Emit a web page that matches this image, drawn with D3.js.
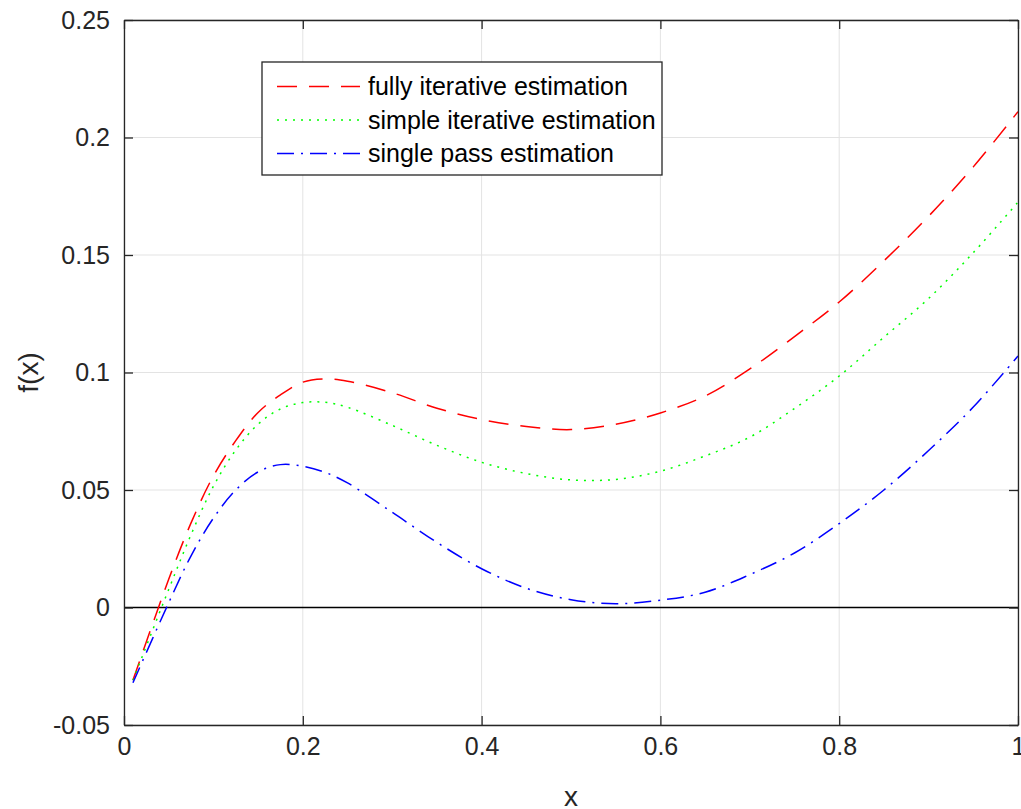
<!DOCTYPE html>
<html>
<head>
<meta charset="utf-8">
<script src="https://cdn.jsdelivr.net/npm/d3@7"></script>
<style>
html,body{margin:0;padding:0;background:#fff;}
text{font-family:"Liberation Sans",Arial,Helvetica,sans-serif;}
</style>
</head>
<body>
<svg id="chart" width="1021" height="809"></svg>
<script>
// ---- data ----
const xFull = [0.01,0.05,0.075,0.1,0.125,0.15,0.175,0.2,0.225,0.25,0.3,0.35,0.4,0.45,0.5,0.55,0.6,0.65,0.7,0.75,0.8,0.85,0.9,0.95,1.0];
const fullyIterative = [-0.031,0.012,0.036,0.056,0.071,0.083,0.0905,0.0959,0.0973,0.0963,0.0914,0.0848,0.0800,0.0770,0.0757,0.0780,0.0828,0.0900,0.1015,0.1153,0.1300,0.1475,0.1665,0.1875,0.2110];
const simpleIterative = [-0.031,0.0077,0.031,0.0516,0.067,0.078,0.0845,0.0872,0.0873,0.0852,0.0775,0.0690,0.0618,0.0570,0.0543,0.0545,0.0580,0.0645,0.0725,0.0847,0.0985,0.1150,0.1315,0.1510,0.1725];
const singlePass = [-0.032,0.002,0.022,0.038,0.050,0.0577,0.0608,0.0601,0.0575,0.0530,0.0405,0.0277,0.0165,0.0082,0.0033,0.0016,0.0031,0.0065,0.0140,0.0232,0.0357,0.0500,0.0668,0.0853,0.1070];
const seriesNames = ["fully iterative estimation","simple iterative estimation","single pass estimation"];
const xTicks = [0,0.2,0.4,0.6,0.8,1];
const xTickLabels = ["0","0.2","0.4","0.6","0.8","1"];
const yTicks = [-0.05,0,0.05,0.1,0.15,0.2,0.25];
const yTickLabels = ["-0.05","0","0.05","0.1","0.15","0.2","0.25"];

// ---- layout ----
const L = 124, R = 1018, T = 20, B = 725;
const svg = d3.select("#chart");
const x = d3.scaleLinear().domain([0,1]).range([L,R]);
const y = d3.scaleLinear().domain([-0.05,0.25]).range([B,T]);
const axisColor = "#262626";
const font = '"Liberation Sans",Arial,sans-serif';

// grid
const g = svg.append("g");
g.selectAll(".gx").data(xTicks).enter().append("line")
  .attr("x1",d=>x(d)).attr("x2",d=>x(d)).attr("y1",T).attr("y2",B)
  .attr("stroke","#e3e3e3").attr("stroke-width",1);
g.selectAll(".gy").data(yTicks).enter().append("line")
  .attr("y1",d=>y(d)).attr("y2",d=>y(d)).attr("x1",L).attr("x2",R)
  .attr("stroke","#e3e3e3").attr("stroke-width",1);

// zero line
svg.append("line").attr("x1",L).attr("x2",R).attr("y1",y(0)).attr("y2",y(0))
  .attr("stroke","#000").attr("stroke-width",1.5);

// series
const styles = [
  {data: fullyIterative, color:"#ff0000", dash:"20,12"},
  {data: simpleIterative, color:"#00ff00", dash:"2,6"},
  {data: singlePass, color:"#0000ff", dash:"17,7,2,7"}
];
const line = d3.line().x(d=>x(d[0])).y(d=>y(d[1])).curve(d3.curveCatmullRom.alpha(0.5));
styles.forEach(s=>{
  svg.append("path").datum(xFull.map((xv,i)=>[xv,s.data[i]]))
    .attr("d",line).attr("fill","none").attr("stroke",s.color)
    .attr("stroke-width",1.5).attr("stroke-dasharray",s.dash);
});

// axes (box with inward ticks)
const tickLen = 9;
const axB = svg.append("g").attr("transform",`translate(0,${B})`)
  .call(d3.axisBottom(x).tickValues(xTicks).tickSizeInner(-tickLen).tickSizeOuter(0).tickPadding(12).tickFormat((d,i)=>xTickLabels[i]));
const axT = svg.append("g").attr("transform",`translate(0,${T})`)
  .call(d3.axisTop(x).tickValues(xTicks).tickSizeInner(-tickLen).tickSizeOuter(0).tickFormat(""));
const axL = svg.append("g").attr("transform",`translate(${L},0)`)
  .call(d3.axisLeft(y).tickValues(yTicks).tickSizeInner(-tickLen).tickSizeOuter(0).tickPadding(14).tickFormat((d,i)=>yTickLabels[i]));
const axR = svg.append("g").attr("transform",`translate(${R},0)`)
  .call(d3.axisRight(y).tickValues(yTicks).tickSizeInner(-tickLen).tickSizeOuter(0).tickFormat(""));
[axB,axT,axL,axR].forEach(a=>{
  a.select(".domain").attr("stroke",axisColor).attr("stroke-width",1.3);
  a.selectAll(".tick line").attr("stroke",axisColor).attr("stroke-width",1.3);
  a.selectAll(".tick text").attr("fill",axisColor).style("font-size","25px")
   .style("font-family",font);
});
axB.selectAll(".tick text").attr("dy","0.71em");

// axis labels
svg.append("text").attr("x",(L+R)/2).attr("y",806).attr("text-anchor","middle")
  .attr("fill",axisColor).style("font-size","28px").text("x");
svg.append("text").attr("transform",`translate(38,${(T+B)/2}) rotate(-90)`)
  .attr("text-anchor","middle").attr("fill",axisColor).style("font-size","28px").text("f(x)");

// legend
const lg = svg.append("g");
lg.append("rect").attr("x",262).attr("y",62).attr("width",400).attr("height",113)
  .attr("fill","#fff").attr("stroke",axisColor).attr("stroke-width",1.3);
const rowY = [86.5,120,153.5];
styles.forEach((s,i)=>{
  lg.append("line").attr("x1",277).attr("x2",360).attr("y1",rowY[i]).attr("y2",rowY[i])
    .attr("stroke",s.color).attr("stroke-width",1.5).attr("stroke-dasharray",s.dash);
  lg.append("text").attr("x",368).attr("y",rowY[i]).attr("dy","0.35em")
    .attr("fill","#000").style("font-size","25px").text(seriesNames[i]);
});
</script>
</body>
</html>
